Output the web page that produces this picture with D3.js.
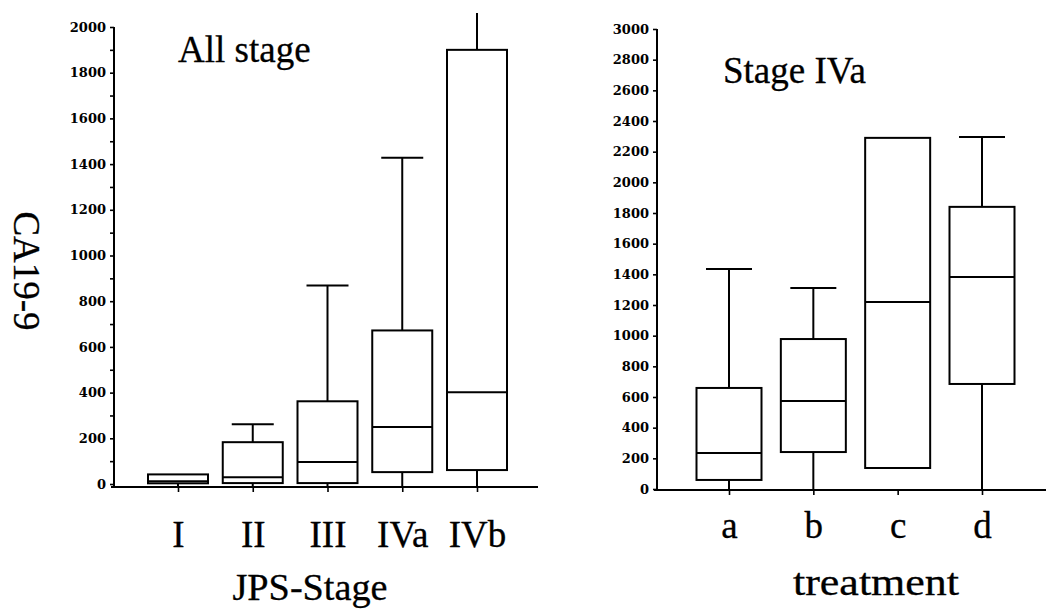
<!DOCTYPE html>
<html>
<head>
<meta charset="utf-8">
<script src="https://cdn.jsdelivr.net/npm/d3@7"></script>
<style>
  html, body { margin: 0; padding: 0; background: #fff; }
  svg { display: block; }
  .tick-label { font-family: "DejaVu Serif", serif; font-weight: bold; font-size: 13px; fill: #000; }
  .big { font-family: "Liberation Serif", "Times New Roman", serif; fill: #000; stroke: #000; stroke-width: 0.3px; }
</style>
</head>
<body>
<svg id="chart" width="1046" height="609"></svg>
<script>
// CA19-9 by JPS stage (all stages)
const stageCats = ["I", "II", "III", "IVa", "IVb"];
const stageMin  = [0, 0, 0, 0, 0];
const stageQ1   = [3, 4, 4, 52, 61];
const stageMed  = [12, 30, 96, 249, 402];
const stageQ3   = [42, 183, 362, 672, 1900];
const stageMax  = [42, 262, 869, 1428, 2060];
const stageTicks = [0, 200, 400, 600, 800, 1000, 1200, 1400, 1600, 1800, 2000];
const stageMinorTicks = [100, 300, 500, 700, 900, 1100, 1300, 1500, 1700, 1900];

// CA19-9 by treatment, stage IVa only
const treatCats = ["a", "b", "c", "d"];
const treatMin  = [0, 0, 137, 0];
const treatQ1   = [59, 241, 137, 685];
const treatMed  = [235, 574, 1220, 1383];
const treatQ3   = [659, 978, 2290, 1840];
const treatMax  = [1435, 1311, 2290, 2296];
const treatTicks = [0, 200, 400, 600, 800, 1000, 1200, 1400, 1600, 1800, 2000, 2200, 2400, 2600, 2800, 3000];

const svg = d3.select("#chart");

function drawPanel(cfg) {
  const g = svg.append("g");
  const y = d3.scaleLinear().domain(cfg.yDomain).range([cfg.y0, cfg.y1]);
  const x = d3.scalePoint().domain(cfg.cats).range(cfg.xRange);

  // y axis with labelled major ticks
  const yAxis = g.append("g")
    .attr("transform", `translate(${cfg.axisX},0)`)
    .call(d3.axisLeft(y).tickValues(cfg.ticks).tickSize(4).tickPadding(4).tickFormat(d3.format("d")));
  yAxis.select(".domain").remove();
  yAxis.selectAll("text").attr("class", "tick-label").attr("font-family", null).attr("font-size", null);
  yAxis.selectAll("line").attr("stroke", "#000").attr("stroke-width", 1.6);

  if (cfg.minor) {
    const m = g.append("g")
      .attr("transform", `translate(${cfg.axisX},0)`)
      .call(d3.axisLeft(y).tickValues(cfg.minor).tickSize(4).tickFormat(""));
    m.select(".domain").remove();
    m.selectAll("line").attr("stroke", "#000").attr("stroke-width", 1.6);
  }

  // vertical axis line
  g.append("line")
    .attr("x1", cfg.axisX).attr("x2", cfg.axisX)
    .attr("y1", y(cfg.yDomain[1])).attr("y2", cfg.baseY)
    .attr("stroke", "#000").attr("stroke-width", 2);

  // horizontal axis with category ticks
  const xAxis = g.append("g")
    .attr("transform", `translate(0,${cfg.baseY})`)
    .call(d3.axisBottom(x).tickSize(5).tickPadding(0));
  xAxis.select(".domain").remove();
  xAxis.selectAll("line").attr("stroke", "#000").attr("stroke-width", 1.6);
  xAxis.selectAll("text")
    .attr("class", "big")
    .attr("font-family", null)
    .attr("font-size", null)
    .style("font-size", cfg.catFont + "px")
    .attr("y", cfg.catBaseline - cfg.baseY)
    .attr("dy", 0);

  g.append("line")
    .attr("x1", cfg.axisX - 3).attr("x2", cfg.xEnd)
    .attr("y1", cfg.baseY).attr("y2", cfg.baseY)
    .attr("stroke", "#000").attr("stroke-width", 2);

  // boxes
  const rows = cfg.cats.map((c, i) => ({
    c, min: cfg.min[i], q1: cfg.q1[i], med: cfg.med[i], q3: cfg.q3[i], max: cfg.max[i]
  }));
  const top = cfg.yDomain[1];
  const boxes = g.append("g").attr("fill", "none").attr("stroke", "#000").attr("stroke-width", 2);
  rows.forEach(r => {
    const cx = x(r.c);
    const hw = cfg.boxW / 2;
    const cw = cfg.capW / 2;
    // upper whisker, clipped to the axis range; cap only when inside it
    if (r.max > r.q3) {
      const yTop = r.max > top ? y(top) - 14 : y(r.max);
      boxes.append("line").attr("x1", cx).attr("x2", cx).attr("y1", y(r.q3)).attr("y2", yTop);
      if (r.max <= top) {
        boxes.append("line").attr("x1", cx - cw).attr("x2", cx + cw).attr("y1", y(r.max)).attr("y2", y(r.max));
      }
    }
    // lower whisker down to the baseline
    if (r.min < r.q1) {
      boxes.append("line").attr("x1", cx).attr("x2", cx).attr("y1", y(r.q1)).attr("y2", Math.max(y(r.min), cfg.baseY));
    }
    boxes.append("rect")
      .attr("x", cx - hw).attr("width", cfg.boxW)
      .attr("y", y(r.q3)).attr("height", y(r.q1) - y(r.q3));
    boxes.append("line")
      .attr("x1", cx - hw).attr("x2", cx + hw)
      .attr("y1", y(r.med)).attr("y2", y(r.med));
  });

  // panel title and axis title
  g.append("text").attr("class", "big")
    .attr("x", cfg.titleX).attr("y", cfg.titleY)
    .style("font-size", "37px")
    .text(cfg.title);
  const xt = g.append("text").attr("class", "big")
    .attr("x", cfg.xTitleX).attr("y", cfg.xTitleY)
    .attr("text-anchor", "middle")
    .style("font-size", cfg.xTitleFont + "px")
    .text(cfg.xTitle);
  if (cfg.xTitleLen) {
    xt.attr("textLength", cfg.xTitleLen).attr("lengthAdjust", "spacingAndGlyphs");
  }
}

drawPanel({
  cats: stageCats, min: stageMin, q1: stageQ1, med: stageMed, q3: stageQ3, max: stageMax,
  yDomain: [0, 2000], y0: 484, y1: 27, ticks: stageTicks, minor: stageMinorTicks,
  axisX: 114, baseY: 487, xRange: [178, 477], xEnd: 538,
  boxW: 60, capW: 42, catFont: 37, catBaseline: 547,
  title: "All stage", titleX: 178, titleY: 62,
  xTitle: "JPS-Stage", xTitleX: 310, xTitleY: 600, xTitleFont: 37, xTitleLen: 155
});

drawPanel({
  cats: treatCats, min: treatMin, q1: treatQ1, med: treatMed, q3: treatQ3, max: treatMax,
  yDomain: [0, 3000], y0: 489, y1: 29, ticks: treatTicks, minor: null,
  axisX: 657, baseY: 490, xRange: [729, 982], xEnd: 1046,
  boxW: 65, capW: 46, catFont: 37, catBaseline: 538,
  title: "Stage IVa", titleX: 723, titleY: 83,
  xTitle: "treatment", xTitleX: 876, xTitleY: 595, xTitleFont: 37, xTitleLen: 166
});

// shared y axis title
svg.append("text").attr("class", "big")
  .attr("transform", "translate(14,271) rotate(90)")
  .attr("text-anchor", "middle")
  .style("font-size", "37px")
  .text("CA19-9");
</script>
</body>
</html>
